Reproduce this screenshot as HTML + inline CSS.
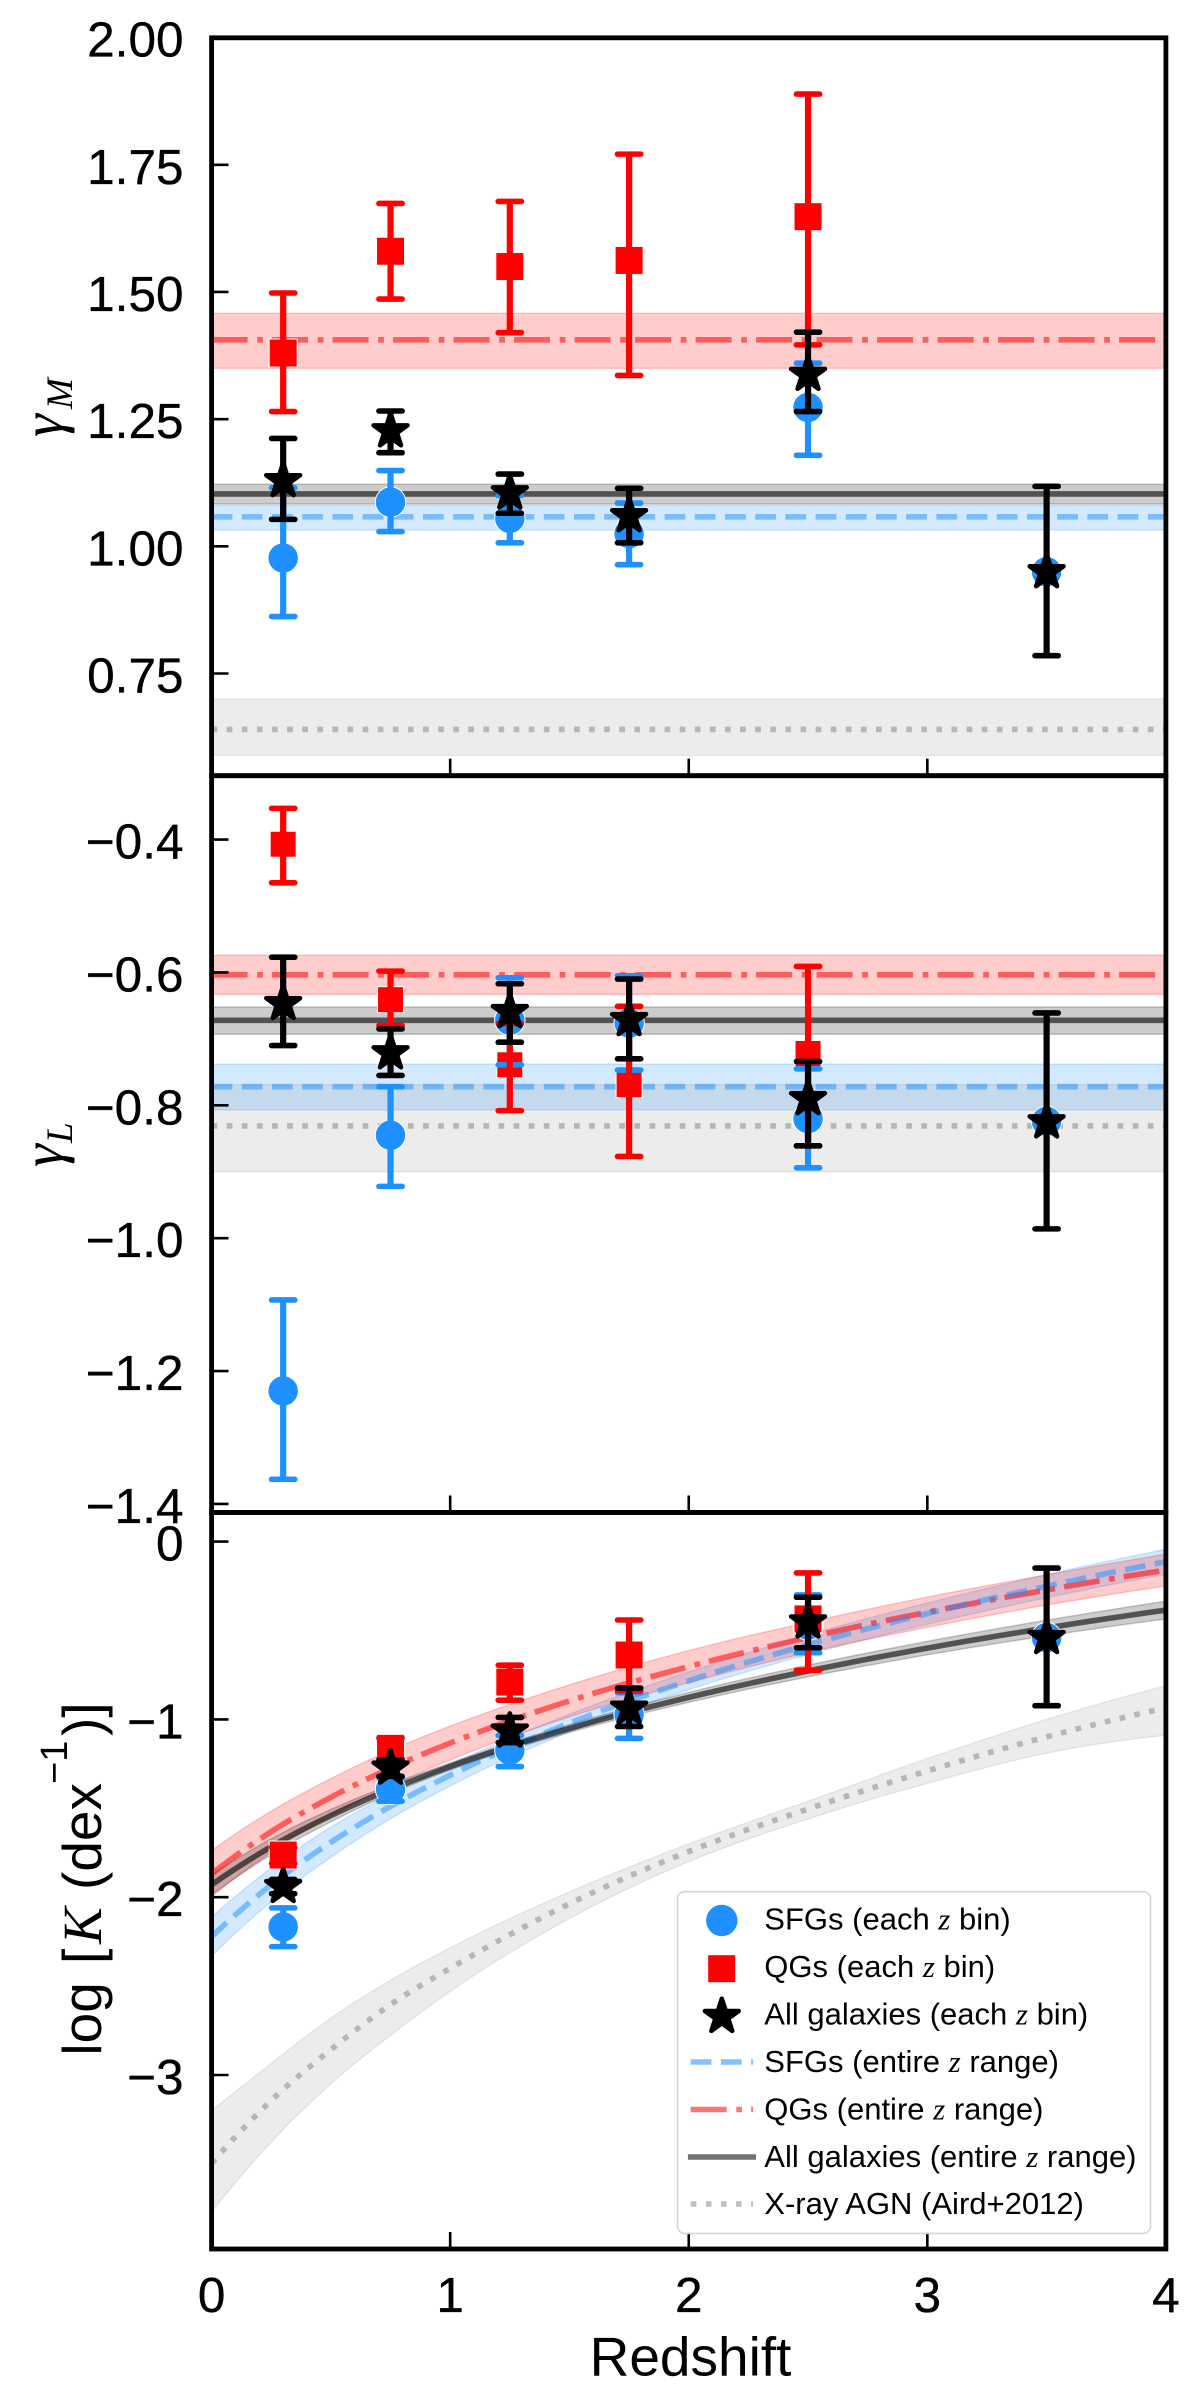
<!DOCTYPE html>
<html lang="en">
<head>
<meta charset="utf-8">
<title>Redshift evolution of gamma-M, gamma-L and log K</title>
<style>
html,body{margin:0;padding:0;background:#fff;width:1200px;height:2408px;overflow:hidden}
svg{display:block}
text{font-family:"Liberation Sans","DejaVu Sans",sans-serif;fill:#000}
.math{font-family:"Liberation Serif","DejaVu Serif",serif;font-style:italic}
.leg{font-size:31px}
.tk{stroke:#000;stroke-width:0.35px}
</style>
</head>
<body>
<svg id="chart" xmlns="http://www.w3.org/2000/svg" width="1200" height="2408" viewBox="0 0 1200 2408">
  <defs>
    <clipPath id="clip-mass"><rect x="214" y="40" width="949.5" height="733.5"/></clipPath>
    <clipPath id="clip-lum"><rect x="214" y="778" width="949.5" height="732"/></clipPath>
    <clipPath id="clip-k"><rect x="214" y="1515" width="949.5" height="732"/></clipPath>
  </defs>
  <g id="layer-mass"></g>
  <g id="layer-lum"></g>
  <g id="layer-k"></g>
  <g id="layer-axes"></g>

  <text transform="translate(62,0) rotate(-90)"><tspan class="math" x="-437" font-size="58">γ</tspan><tspan class="math" x="-409" y="10" font-size="37">M</tspan></text>
  <text transform="translate(62,0) rotate(-90)"><tspan class="math" x="-1167" font-size="58">γ</tspan><tspan class="math" x="-1143" y="10" font-size="37">L</tspan></text>
  <text transform="translate(101,0) rotate(-90)" font-size="55"><tspan x="-2055.6" y="0">log</tspan><tspan x="-1964" y="0">[</tspan><tspan class="math" x="-1944" y="0">K</tspan><tspan x="-1890" y="0">(dex</tspan><tspan x="-1784" y="-34" font-size="38">−1</tspan><tspan x="-1736" y="0">)]</tspan></text>
  <text x="690.5" y="2375.7" font-size="55" text-anchor="middle">Redshift</text>

  <g>
    <rect x="677.5" y="1891.7" width="473" height="341.7" rx="7" fill="#fff" fill-opacity="0.85" stroke="#d6d6d6" stroke-width="1.6"/>
    <circle cx="721.8" cy="1920.5" r="15.7" fill="#1e90ff"/>
    <rect x="708.2" y="1955.2" width="27" height="27" fill="#ff0000"/>
    <polygon id="legend-star" fill="#000" stroke="#000" stroke-width="4.5" stroke-linejoin="round" points=""/>
    <line x1="690.7" x2="753" y1="2062" y2="2062" stroke="#1e90ff" stroke-opacity="0.55" stroke-width="5.6" stroke-dasharray="20.7 9.5"/>
    <line x1="690.7" x2="753" y1="2109.5" y2="2109.5" stroke="#ff0000" stroke-opacity="0.55" stroke-width="5.6" stroke-dasharray="36 9.6 5.7 9.2"/>
    <line x1="687.9" x2="756" y1="2157" y2="2157" stroke="#000" stroke-opacity="0.55" stroke-width="5.6"/>
    <line x1="690.7" x2="753" y1="2204" y2="2204" stroke="#808080" stroke-opacity="0.5" stroke-width="5.6" stroke-dasharray="5.7 9.4"/>
    <text class="leg" x="764.3" y="1929.4">SFGs (each <tspan class="math">z</tspan> bin)</text>
    <text class="leg" x="764.3" y="1977">QGs (each <tspan class="math">z</tspan> bin)</text>
    <text class="leg" x="764.3" y="2024.5">All galaxies (each <tspan class="math">z</tspan> bin)</text>
    <text class="leg" x="764.3" y="2072">SFGs (entire <tspan class="math">z</tspan> range)</text>
    <text class="leg" x="764.3" y="2119.5">QGs (entire <tspan class="math">z</tspan> range)</text>
    <text class="leg" x="764.3" y="2167">All galaxies (entire <tspan class="math">z</tspan> range)</text>
    <text class="leg" x="764.3" y="2214">X-ray AGN (Aird+2012)</text>
  </g>
</svg>
<script>
// ---------- categories ----------
const zBins = [0.3, 0.75, 1.25, 1.75, 2.5, 3.5];
const xTicks = [1, 2, 3];
const xTickLabels = ['0', '1', '2', '3', '4'];
const xLabelValues = [0, 1, 2, 3, 4];

// ---------- gamma_M panel ----------
const massTicks = [2.00, 1.75, 1.50, 1.25, 1.00, 0.75];
const massTickLabels = ['2.00', '1.75', '1.50', '1.25', '1.00', '0.75'];
const massSfgVal = [0.977, 1.087, 1.055, 1.025, 1.273, 0.950];
const massSfgHi = [1.115, 1.149, 1.100, 1.085, 1.360, 0.956];
const massSfgLo = [0.862, 1.029, 1.007, 0.964, 1.179, 0.944];
const massQgVal = [1.380, 1.580, 1.550, 1.562, 1.648];
const massQgHi = [1.498, 1.674, 1.678, 1.771, 1.889];
const massQgLo = [1.265, 1.486, 1.420, 1.336, 1.396];
const massAllVal = [1.129, 1.227, 1.105, 1.060, 1.338, 0.950];
const massAllHi = [1.212, 1.266, 1.142, 1.114, 1.421, 1.118];
const massAllLo = [1.053, 1.184, 1.065, 1.007, 1.265, 0.785];
const massFit = { sfg: [1.058, 1.080, 1.032], qg: [1.406, 1.458, 1.350], all: [1.103, 1.122, 1.083], agn: [0.640, 0.700, 0.589] };

// ---------- gamma_L panel ----------
const lumTicks = [-0.4, -0.6, -0.8, -1.0, -1.2, -1.4];
const lumTickLabels = ['−0.4', '−0.6', '−0.8', '−1.0', '−1.2', '−1.4'];
const lumSfgVal = [-1.230, -0.845, -0.672, -0.676, -0.820, -0.824];
const lumSfgHi = [-1.093, -0.772, -0.608, -0.605, -0.745, -0.820];
const lumSfgLo = [-1.363, -0.922, -0.739, -0.747, -0.894, -0.829];
const lumQgVal = [-0.407, -0.641, -0.739, -0.769, -0.722];
const lumQgHi = [-0.353, -0.598, -0.677, -0.651, -0.591];
const lumQgLo = [-0.465, -0.680, -0.808, -0.877, -0.861];
const lumAllVal = [-0.647, -0.721, -0.659, -0.671, -0.790, -0.825];
const lumAllHi = [-0.577, -0.685, -0.617, -0.610, -0.734, -0.661];
const lumAllLo = [-0.710, -0.755, -0.705, -0.730, -0.861, -0.986];
const lumFit = { sfg: [-0.772, -0.738, -0.807], qg: [-0.6035, -0.574, -0.633], all: [-0.672, -0.652, -0.693], agn: [-0.831, -0.769, -0.900] };

// ---------- log K panel ----------
const kTicks = [0, -1, -2, -3];
const kTickLabels = ['0', '−1', '−2', '−3'];
const kSfgVal = [-2.167, -1.393, -1.173, -0.974, -0.470, -0.540];
const kSfgHi = [-2.060, -1.330, -1.090, -0.850, -0.300, -0.523];
const kSfgLo = [-2.278, -1.460, -1.265, -1.107, -0.625, -0.557];
const kQgVal = [-1.763, -1.163, -0.790, -0.638, -0.435];
const kQgHi = [-1.720, -1.105, -0.695, -0.441, -0.176];
const kQgLo = [-1.810, -1.220, -0.892, -0.840, -0.723];
const kAllVal = [-1.940, -1.274, -1.066, -0.937, -0.452, -0.540];
const kAllHi = [-1.900, -1.230, -0.989, -0.824, -0.313, -0.149];
const kAllLo = [-1.980, -1.320, -1.130, -1.040, -0.597, -0.923];
const curveZ = [0, 0.25, 0.5, 0.75, 1, 1.5, 2, 2.5, 3, 3.5, 4];
const kSfgCurve = [-2.222, -1.930, -1.691, -1.489, -1.314, -1.021, -0.783, -0.580, -0.405, -0.251, -0.113];
const kSfgCurveHi = [-2.112, -1.835, -1.606, -1.419, -1.254, -0.971, -0.733, -0.525, -0.345, -0.186, -0.043];
const kSfgCurveLo = [-2.332, -2.025, -1.776, -1.559, -1.374, -1.071, -0.833, -0.635, -0.465, -0.316, -0.183];
const kQgCurve = [-1.868, -1.631, -1.438, -1.274, -1.133, -0.896, -0.703, -0.539, -0.397, -0.272, -0.160];
const kQgCurveHi = [-1.738, -1.516, -1.333, -1.174, -1.038, -0.806, -0.613, -0.454, -0.312, -0.187, -0.070];
const kQgCurveLo = [-1.998, -1.746, -1.543, -1.374, -1.228, -0.986, -0.793, -0.624, -0.482, -0.357, -0.250];
const kAllCurve = [-1.930, -1.716, -1.541, -1.393, -1.265, -1.051, -0.876, -0.728, -0.599, -0.486, -0.385];
const kAllCurveHi = [-1.874, -1.671, -1.506, -1.368, -1.245, -1.029, -0.848, -0.695, -0.561, -0.442, -0.335];
const kAllCurveLo = [-1.986, -1.761, -1.576, -1.418, -1.285, -1.073, -0.904, -0.761, -0.637, -0.530, -0.435];
const kAgnCurve = [-3.497, -3.143, -2.857, -2.604, -2.400, -2.037, -1.743, -1.504, -1.290, -1.098, -0.935];
const kAgnCurveHi = [-3.200, -2.935, -2.680, -2.467, -2.285, -1.970, -1.700, -1.460, -1.220, -1.000, -0.810];
const kAgnCurveLo = [-3.770, -3.377, -3.050, -2.777, -2.530, -2.120, -1.800, -1.560, -1.360, -1.190, -1.090];

// ---------- axis functions ----------
const NS = 'http://www.w3.org/2000/svg';
function linear(d0, d1, r0, r1) { return function (v) { return r0 + (v - d0) * (r1 - r0) / (d1 - d0); }; }
const xAxis = linear(0, 4, 211.6, 1165.9);
const yMass = linear(0.75, 1.75, 673.5, 164.8);
const yLum = linear(-1.4, -0.4, 1503.9, 839.6);
const yK = linear(-3, 0, 2075, 1541.6);

const BLUE = '#1e90ff', RED = '#ff0000', BLACK = '#000000', GREY = '#808080';
function mk(tag, attrs, parent) {
  const el = document.createElementNS(NS, tag);
  for (const k in attrs) el.setAttribute(k, attrs[k]);
  if (parent) parent.appendChild(el);
  return el;
}
function hermite(xs, ys) {
  const n = xs.length, m = [];
  if (n === 2) {
    const d = (ys[1] - ys[0]) / (xs[1] - xs[0]);
    m.push(d, d);
  } else {
    for (let i = 0; i < n; i++) {
      if (i === 0) {
        const h0 = xs[1] - xs[0], h1 = xs[2] - xs[1], d0 = (ys[1] - ys[0]) / h0, d1 = (ys[2] - ys[1]) / h1;
        m.push(d0 + (d0 - d1) * h0 / (h0 + h1));
      } else if (i === n - 1) {
        const h0 = xs[n - 2] - xs[n - 3], h1 = xs[n - 1] - xs[n - 2], d0 = (ys[n - 2] - ys[n - 3]) / h0, d1 = (ys[n - 1] - ys[n - 2]) / h1;
        m.push(d1 + (d1 - d0) * h1 / (h0 + h1));
      } else {
        const h0 = xs[i] - xs[i - 1], h1 = xs[i + 1] - xs[i], d0 = (ys[i] - ys[i - 1]) / h0, d1 = (ys[i + 1] - ys[i]) / h1;
        m.push((h1 * d0 + h0 * d1) / (h0 + h1));
      }
    }
  }
  const out = [];
  for (let i = 0; i < n - 1; i++) {
    const h = xs[i + 1] - xs[i];
    for (let s = 0; s < 10; s++) {
      const t = s / 10, t2 = t * t, t3 = t2 * t;
      out.push([xs[i] + t * h,
        (2 * t3 - 3 * t2 + 1) * ys[i] + (t3 - 2 * t2 + t) * h * m[i] + (-2 * t3 + 3 * t2) * ys[i + 1] + (t3 - t2) * h * m[i + 1]]);
    }
  }
  out.push([xs[n - 1], ys[n - 1]]);
  return out;
}
function toPath(pts, sy) { return pts.map(function (p) { return xAxis(p[0]).toFixed(2) + ',' + sy(p[1]).toFixed(2); }); }
function drawBand(g, xs, hi, lo, sy, color, op, name) {
  const a = toPath(hermite(xs, hi), sy), b = toPath(hermite(xs, lo), sy).reverse();
  const el = mk('path', { d: 'M' + a.join('L') + 'L' + b.join('L') + 'Z', fill: color, 'fill-opacity': op, stroke: color, 'stroke-opacity': op, 'stroke-width': 1.4 }, g);
  
  
}
function drawLine(g, xs, ys, sy, color, op, dash, name) {
  const el = mk('path', { d: 'M' + toPath(hermite(xs, ys), sy).join('L'), fill: 'none', stroke: color, 'stroke-opacity': op, 'stroke-width': 5.6 }, g);
  if (dash) el.setAttribute('stroke-dasharray', dash);
  
  
}
function drawBars(g, vals, hi, lo, sy, color, name) {
  vals.forEach(function (v, i) {
    const x = xAxis(zBins[i]);
    const bar = mk('line', { x1: x, x2: x, y1: sy(hi[i]), y2: sy(lo[i]), stroke: color, 'stroke-width': 6.2 }, g);
    
    
    [hi[i], lo[i]].forEach(function (c) {
      const cap = mk('line', { x1: x - 11.6, x2: x + 11.6, y1: sy(c), y2: sy(c), stroke: color, 'stroke-width': 5.6, 'stroke-linecap': 'round' }, g);
      
      
    });
  });
}
function starPoints(cx, cy, R) {
  const pts = [];
  for (let i = 0; i < 10; i++) {
    const r = i % 2 ? R * 0.382 : R, a = -Math.PI / 2 + i * Math.PI / 5;
    pts.push((cx + r * Math.cos(a)).toFixed(2) + ',' + (cy + r * Math.sin(a)).toFixed(2));
  }
  return pts.join(' ');
}
function drawCircles(g, vals, sy) {
  vals.forEach(function (v, i) {
    const el = mk('circle', { cx: xAxis(zBins[i]), cy: sy(v), r: 15.2, fill: BLUE, stroke: '#fff', 'stroke-width': 1 }, g);
    
    
  });
}
function drawSquares(g, vals, sy, size) {
  vals.forEach(function (v, i) {
    const el = mk('rect', { x: xAxis(zBins[i]) - size / 2, y: sy(v) - size / 2, width: size, height: size, fill: RED, stroke: '#fff', 'stroke-width': 1 }, g);
    
    
  });
}
function drawStars(g, vals, sy) {
  vals.forEach(function (v, i) {
    const el = mk('polygon', { points: starPoints(xAxis(zBins[i]), sy(v), 17.8), fill: BLACK, stroke: BLACK, 'stroke-width': 4.5, 'stroke-linejoin': 'round' }, g);
    
    
  });
}
function drawPoints(g, sy, size, s, sh, sl, q, qh, ql, a, ah, al) {
  drawCircles(g, s, sy);
  drawSquares(g, q, sy, size);
  drawBars(g, s, sh, sl, sy, BLUE, 'sfg');
  drawBars(g, q, qh, ql, sy, RED, 'qg');
  drawBars(g, a, ah, al, sy, BLACK, 'all-galaxies');
  drawStars(g, a, sy);
}
function drawFlatFits(g, fit, sy) {
  const xs = [0, 4];
  drawBand(g, xs, [fit.sfg[1], fit.sfg[1]], [fit.sfg[2], fit.sfg[2]], sy, BLUE, 0.2, 'sfg-fit-band');
  drawBand(g, xs, [fit.qg[1], fit.qg[1]], [fit.qg[2], fit.qg[2]], sy, RED, 0.2, 'qg-fit-band');
  drawBand(g, xs, [fit.all[1], fit.all[1]], [fit.all[2], fit.all[2]], sy, BLACK, 0.2, 'all-galaxies-fit-band');
  drawBand(g, xs, [fit.agn[1], fit.agn[1]], [fit.agn[2], fit.agn[2]], sy, GREY, 0.15, 'xray-agn-band');
  drawLine(g, xs, [fit.qg[0], fit.qg[0]], sy, RED, 0.55, '36 9.6 5.7 9.2', 'qg-fit-line');
  drawLine(g, xs, [fit.sfg[0], fit.sfg[0]], sy, BLUE, 0.5, '20.7 9.5', 'sfg-fit-line');
  drawLine(g, xs, [fit.all[0], fit.all[0]], sy, BLACK, 0.6, null, 'all-galaxies-fit-line');
  drawLine(g, xs, [fit.agn[0], fit.agn[0]], sy, GREY, 0.5, '5.7 9.4', 'xray-agn-line');
}

// ---------- panels ----------
const massCurves = mk('g', { 'clip-path': 'url(#clip-mass)' }, document.getElementById('layer-mass'));
drawFlatFits(massCurves, massFit, yMass);
drawPoints(document.getElementById('layer-mass'), yMass, 28, massSfgVal, massSfgHi, massSfgLo, massQgVal, massQgHi, massQgLo, massAllVal, massAllHi, massAllLo);

const lumCurves = mk('g', { 'clip-path': 'url(#clip-lum)' }, document.getElementById('layer-lum'));
drawFlatFits(lumCurves, lumFit, yLum);
drawPoints(document.getElementById('layer-lum'), yLum, 26, lumSfgVal, lumSfgHi, lumSfgLo, lumQgVal, lumQgHi, lumQgLo, lumAllVal, lumAllHi, lumAllLo);

const kCurves = mk('g', { 'clip-path': 'url(#clip-k)' }, document.getElementById('layer-k'));
drawBand(kCurves, curveZ, kSfgCurveHi, kSfgCurveLo, yK, BLUE, 0.2, 'sfg-fit-band');
drawBand(kCurves, curveZ, kQgCurveHi, kQgCurveLo, yK, RED, 0.2, 'qg-fit-band');
drawBand(kCurves, curveZ, kAllCurveHi, kAllCurveLo, yK, BLACK, 0.2, 'all-galaxies-fit-band');
drawBand(kCurves, curveZ, kAgnCurveHi, kAgnCurveLo, yK, GREY, 0.15, 'xray-agn-band');
drawLine(kCurves, curveZ, kQgCurve, yK, RED, 0.55, '36 9.6 5.7 9.2', 'qg-fit-line');
drawLine(kCurves, curveZ, kSfgCurve, yK, BLUE, 0.5, '20.7 9.5', 'sfg-fit-line');
drawLine(kCurves, curveZ, kAllCurve, yK, BLACK, 0.6, null, 'all-galaxies-fit-line');
drawLine(kCurves, curveZ, kAgnCurve, yK, GREY, 0.5, '5.7 9.4', 'xray-agn-line');
drawPoints(document.getElementById('layer-k'), yK, 28, kSfgVal, kSfgHi, kSfgLo, kQgVal, kQgHi, kQgLo, kAllVal, kAllHi, kAllLo);

// ---------- axes ----------
const axesLayer = document.getElementById('layer-axes');
function drawFrame(top, bottom, name) {
  const frame = mk('rect', { x: 211.6, y: top, width: 954.3, height: bottom - top, fill: 'none', stroke: '#000', 'stroke-width': 4.8 }, axesLayer);
  
  
  xTicks.forEach(function (t) {
    const tick = mk('line', { x1: xAxis(t), x2: xAxis(t), y1: bottom - 17, y2: bottom, stroke: '#000', 'stroke-width': 2.6 }, axesLayer);
    
    
  });
}
function drawYTicks(ticks, labels, sy, name) {
  ticks.forEach(function (t, i) {
    const y = sy(t);
    const tick = mk('line', { x1: 212, x2: 228.5, y1: y, y2: y, stroke: '#000', 'stroke-width': 2.6 }, axesLayer);
    
    
    const lab = mk('text', { x: 183.5, y: y + 19, 'font-size': 49.5, 'text-anchor': 'end', class: 'tk' }, axesLayer);
    lab.textContent = labels[i];
    
    
  });
}
drawFrame(37.8, 775.7, 'gamma-m');
drawFrame(775.7, 1512.5, 'gamma-l');
drawFrame(1512.5, 2249, 'log-k');
drawYTicks(massTicks, massTickLabels, yMass, 'gamma-m');
drawYTicks(lumTicks, lumTickLabels, yLum, 'gamma-l');
drawYTicks(kTicks, kTickLabels, yK, 'log-k');
xLabelValues.forEach(function (t, i) {
  const lab = mk('text', { x: xAxis(t), y: 2312, 'font-size': 49.5, 'text-anchor': 'middle', class: 'tk' }, axesLayer);
  lab.textContent = xTickLabels[i];
  
  
});
document.getElementById('legend-star').setAttribute('points', starPoints(721.8, 2016.5, 17.8));
</script>
</body>
</html>
